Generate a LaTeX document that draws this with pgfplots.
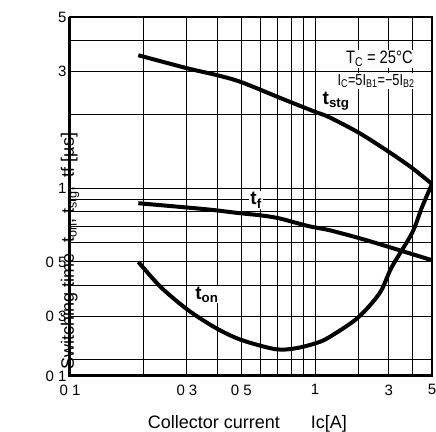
\documentclass[border=0pt]{standalone}
\usepackage{fontspec}
\setmainfont{Liberation Sans}
\usepackage{graphicx}
\usepackage{pgfplots}
\usepackage{pgfplotstable}
\pgfplotsset{compat=1.18}
\usetikzlibrary{calc}

% switching times, x = Ic [A], y = t [us]
\pgfplotstableread{
x     y
0.19  3.49
0.30  3.09
0.40  2.89
0.50  2.71
0.71  2.35
0.80  2.24
1.00  2.05
1.28  1.95
2.03  1.68
3.03  1.40
3.97  1.21
5.00  1.04
}\tstg

\pgfplotstableread{
x     y
0.19  0.868
0.32  0.829
0.39  0.813
0.49  0.791
0.59  0.776
0.71  0.754
0.94  0.700
1.28  0.674
2.03  0.625
3.03  0.574
5.00  0.508
}\tf

\pgfplotstableread{
x     y
0.19  0.50
0.235 0.394
0.303 0.318
0.395 0.268
0.50  0.240
0.69  0.220
0.835 0.222
1.02  0.233
1.28  0.246
1.98  0.295
2.67  0.373
3.11  0.476
3.97  0.655
4.46  0.836
5.00  1.04
}\ton

% the scanned sheet is not a clean log scale: 1..5 A is squeezed and the
% bottom row (0.1..0.2 us) is cut short, so both axes are mapped by hand
\newcommand\sheetx{\thisrow{x}>1 ? ln((\thisrow{x}+1)/2)/ln(10) : ln(\thisrow{x})/ln(10)}
\newcommand\sheety{\thisrow{y}>0.2 ? ln(\thisrow{y})/ln(10) : -0.69897+0.226*ln(\thisrow{y}/0.2)/ln(10)}

\begin{document}
\begin{tikzpicture}
\begin{axis}[
  name=ax,
  scale only axis, width=362pt, height=359pt,
  xmin=-1, xmax=0.47712, ymin=-0.76700, ymax=0.69897,
  % positions of 0.1 0.3 0.5 1 3 5 on the squeezed scales
  xtick={-1,-0.52288,-0.30103,0,0.30103,0.47712},
  xticklabels={0 1,0 3,0 5,1,3,5},
  ytick={-0.76700,-0.52288,-0.30103,0,0.47712,0.69897},
  yticklabels={0 1,0 3,0 5,1,3,5},
  % the remaining grid lines at 0.2 0.4 ... 0.9 2 4
  extra x ticks={-0.69897,-0.39794,-0.22185,-0.15490,-0.09691,-0.04576,0.17609,0.39794},
  extra x tick labels={},
  extra y ticks={-0.69897,-0.39794,-0.22185,-0.15490,-0.09691,-0.04576,0.30103,0.60206},
  extra y tick labels={},
  xmajorgrids, ymajorgrids,
  major grid style={black, line width=1pt},
  extra tick style={grid=major, major grid style={black, line width=1pt}},
  major tick length=0pt,
  axis line style={line width=1.6pt},
  tick label style={font=\fontsize{15}{15}\selectfont},
  xticklabel style={yshift=-5pt},
  xlabel={Collector current\hspace{31pt}Ic[A]},
  ylabel={Switching time\hspace{0.6em}t\textsubscript{on}, t\textsubscript{stg},\hspace{0.5em}tf [µs]},
  label style={font=\fontsize{18}{18}\selectfont},
  xlabel style={at={(axis description cs:0.49,0)}, anchor=base, yshift=-53pt},
  ylabel style={at={(axis description cs:0,0.487)}, anchor=center, xshift=-50pt},
  after end axis/.append code={
    \draw[line width=3pt] (rel axis cs:0,1) -- (rel axis cs:0,0) -- (rel axis cs:1,0);
  },
]
\addplot[black, line width=4pt, smooth] table[x expr=\sheetx, y expr=\sheety] {\tstg};
\addplot[black, line width=4pt, smooth] table[x expr=\sheetx, y expr=\sheety] {\tf};
\addplot[black, line width=4pt, smooth] table[x expr=\sheetx, y expr=\sheety] {\ton};

\node[anchor=east, inner sep=1pt, fill=white, font=\fontsize{18}{18}\selectfont]
  at (rel axis cs:0.950,0.883) {\scalebox{0.82}[1]{T\textsubscript{C} = 25°C}};
\node[anchor=east, inner sep=1pt, fill=white, font=\fontsize{16}{16}\selectfont]
  at (rel axis cs:0.955,0.822) {\scalebox{0.8}[1]{I\textsubscript{C}=5I\textsubscript{B1}=−5I\textsubscript{B2}}};
\node[inner sep=1pt, fill=white, font=\bfseries\fontsize{19}{19}\selectfont]
  at (rel axis cs:0.735,0.766) {t\textsubscript{stg}};
\node[inner sep=1pt, fill=white, font=\bfseries\fontsize{19}{19}\selectfont]
  at (rel axis cs:0.514,0.490) {t\textsubscript{f}};
\node[inner sep=1pt, fill=white, font=\bfseries\fontsize{19}{19}\selectfont]
  at (rel axis cs:0.378,0.226) {t\textsubscript{on}};
\end{axis}
\pgfresetboundingbox
\path[use as bounding box] ($(ax.south west)+(-70pt,-56pt)$) rectangle ($(ax.north east)+(4pt,17pt)$);
\end{tikzpicture}
\end{document}
